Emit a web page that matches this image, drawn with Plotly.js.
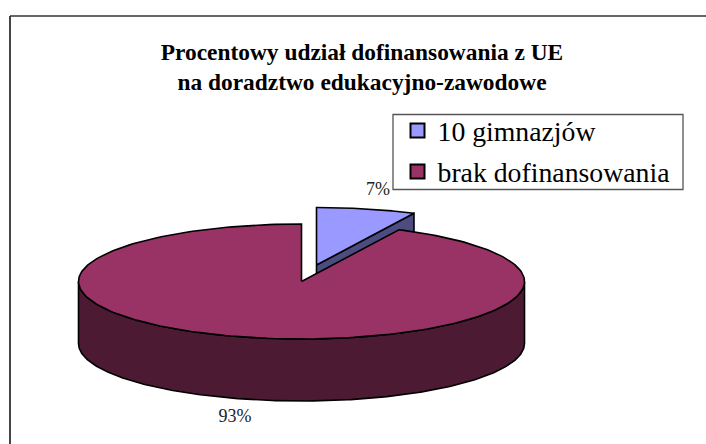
<!DOCTYPE html>
<html><head><meta charset="utf-8">
<script src="https://cdn.plot.ly/plotly-3.0.1.min.js"></script>
<style>html,body{margin:0;padding:0;background:#fff}</style></head>
<body><div id="chart" style="width:706px;height:444px"></div>
<script>
const categories = ["10 gimnazjów", "brak dofinansowania"];
const values = [7.2, 92.8];
const labels = ["7%", "93%"];
const chartTitle = "Procentowy udział dofinansowania z UE<br>na doradztwo edukacyjno-zawodowe";
const topColors = ["#9999FF", "#993366"];
const sideColors = ["#4C4C80", "#4C1A33"];

const total = values[0] + values[1];
const split = values[0] / total * 2 * Math.PI;
const RX = 223, RY = 57.5, DEPTH = 62;
const main = {x: 301.5, y: 281.5};
const blue = {x: 316.5, y: 265};
const px = (c, a) => c.x + RX * Math.sin(a);
const py = (c, a) => c.y - RY * Math.cos(a);
function wedge(c, a0, a1) {
  const xs = [c.x], ys = [c.y];
  for (let i = 0; i <= 240; i++) {
    const a = a0 + (a1 - a0) * i / 240;
    xs.push(px(c, a)); ys.push(py(c, a));
  }
  xs.push(c.x); ys.push(c.y);
  return {xs, ys};
}
function rim(c, a0, a1) {
  const xs = [], ys = [];
  for (let i = 0; i <= 240; i++) {
    const a = a0 + (a1 - a0) * i / 240;
    xs.push(px(c, a)); ys.push(py(c, a));
  }
  for (let i = 240; i >= 0; i--) {
    const a = a0 + (a1 - a0) * i / 240;
    xs.push(px(c, a)); ys.push(py(c, a) + DEPTH);
  }
  xs.push(xs[0]); ys.push(ys[0]);
  return {xs, ys};
}
const poly = (s, color) => ({
  x: s.xs, y: s.ys, mode: "lines", fill: "toself", fillcolor: color,
  line: {color: "#000", width: 1.6}, showlegend: false, hoverinfo: "skip"
});
const bw = {
  xs: [blue.x, px(blue, split), px(blue, split), blue.x, blue.x],
  ys: [blue.y, py(blue, split), py(blue, split) + DEPTH, blue.y + DEPTH, blue.y]
};
const traces = [
  poly(bw, sideColors[0]),
  poly(wedge(blue, 0, split), topColors[0]),
  poly(rim(main, Math.PI / 2, 3 * Math.PI / 2), sideColors[1]),
  poly(wedge(main, split, 2 * Math.PI), topColors[1]),
  {x: [378, 235], y: [190, 417], mode: "text", text: labels, showlegend: false, hoverinfo: "skip",
   textposition: "middle center", textfont: {family: "Liberation Serif", size: 18, color: "#222"}},
  ...categories.map((c, i) => ({
    x: [null], y: [null], name: c, mode: "markers", legendgroup: "g" + i,
    marker: {symbol: "square", size: 14, color: topColors[i], line: {color: "#000", width: 2}}
  }))
];
const layout = {
  width: 706, height: 444, margin: {l: 0, r: 0, t: 0, b: 0},
  paper_bgcolor: "#fff", plot_bgcolor: "#fff", showlegend: true,
  xaxis: {range: [0, 706], visible: false, fixedrange: true},
  yaxis: {range: [444, 0], visible: false, fixedrange: true},
  title: {text: chartTitle, x: 362 / 706, xanchor: "center", y: 1 - 60 / 444, yanchor: "middle",
    font: {family: "Liberation Serif", size: 23.4, color: "#000", weight: "bold"}},
  legend: {x: 397.5 / 706, y: 1 - 106 / 444, xanchor: "left", yanchor: "top",
    bgcolor: "rgba(0,0,0,0)", borderwidth: 0, tracegroupgap: 2, itemclick: false,
    font: {family: "Liberation Serif", size: 27.75, color: "#000"}},
  shapes: [
    {type: "rect", xref: "x", yref: "y", x0: 393, x1: 683, y0: 114.5, y1: 189.5, layer: "below",
     fillcolor: "#fff", line: {color: "#555", width: 1.3}},
    {type: "line", xref: "x", yref: "y", x0: 10, x1: 10, y0: 16, y1: 444, line: {color: "#444", width: 2}},
    {type: "line", xref: "x", yref: "y", x0: 10, x1: 706, y0: 16, y1: 16, line: {color: "#333", width: 1.6}}
  ]
};
Plotly.newPlot("chart", traces, layout, {displayModeBar: false, staticPlot: true});
</script></body></html>
